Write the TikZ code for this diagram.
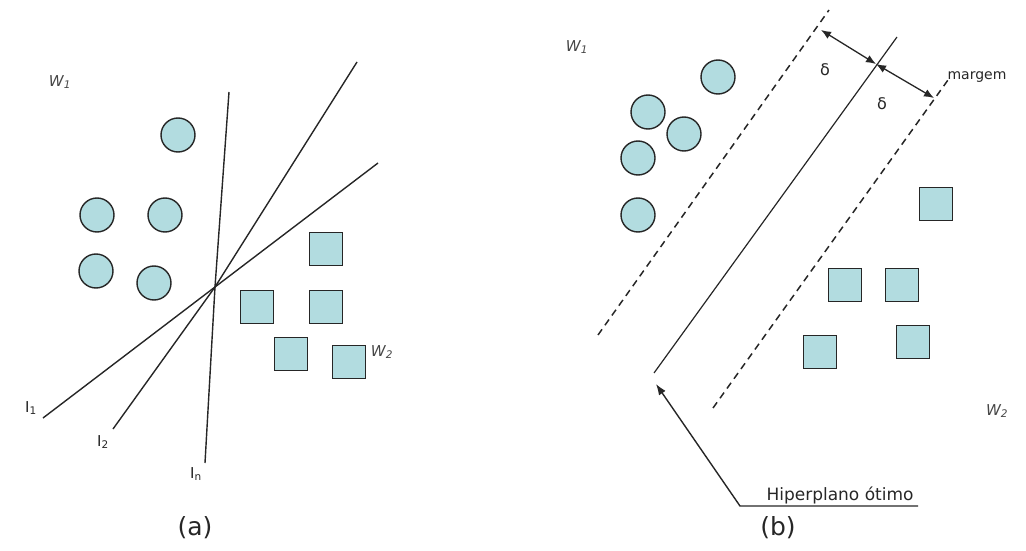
\documentclass[tikz,border=0pt]{standalone}
\usepackage{fontspec}
\setmainfont{DejaVu Sans}
\usetikzlibrary{arrows.meta}
\definecolor{ptfill}{RGB}{178,220,224}
\definecolor{lab}{RGB}{70,70,70}
\tikzset{
  dot/.style={circle,draw=black!85,line width=1.4pt,fill=ptfill,minimum size=34pt,inner sep=0pt},
  sq/.style={rectangle,draw=black!85,line width=1.4pt,fill=ptfill,minimum size=33pt,inner sep=0pt},
  ln/.style={draw=black!85,line width=1.4pt},
  dsh/.style={draw=black!85,line width=1.5pt,dash pattern=on 7pt off 5pt},
  wl/.style={text=lab,font=\fontsize{15}{17}\selectfont\itshape,inner sep=0pt},
  il/.style={text=black!85,font=\fontsize{15}{17}\selectfont,inner sep=0pt},
  captxt/.style={text=black!85,font=\fontsize{25}{28}\selectfont,inner sep=0pt},
  tipend/.style={-{Latex[length=11pt,width=8pt]}},
  dtip/.style={{Latex[length=10pt,width=8pt]}-{Latex[length=10pt,width=8pt]}}
}
\begin{document}
\begin{tikzpicture}[x=1pt,y=-1pt]
\useasboundingbox (0,0) rectangle (1026,551);
% ---------- panel (a)
\node[wl] (w1a) at (60,82) {W\textsubscript{1}};
\node[wl] (w2a) at (382,352) {W\textsubscript{2}};
\node[dot] (a1) at (178,135) {};
\node[dot] (a2) at (97,215) {};
\node[dot] (a3) at (165,215) {};
\node[dot] (a4) at (96,271) {};
\node[dot] (a5) at (154,283) {};
\node[sq] (b1) at (326,249) {};
\node[sq] (b2) at (257,307) {};
\node[sq] (b3) at (326,307) {};
\node[sq] (b4) at (291,354) {};
\node[sq] (b5) at (349,362) {};
\coordinate (X) at (215,287);
\coordinate (l1a) at (43,418);
\coordinate (l1b) at (378,163);
\coordinate (l2a) at (113,429);
\coordinate (l2b) at (357,62);
\coordinate (lna) at (205,463);
\coordinate (lnb) at (229,92);
\draw[ln] (l1a) -- (X) -- (l1b);
\draw[ln] (l2a) -- (X) -- (l2b);
\draw[ln] (lna) -- (X) -- (lnb);
\node[il] (t1) at (31,408) {I\textsubscript{1}};
\node[il] (t2) at (103,442) {I\textsubscript{2}};
\node[il] (tn) at (196,474) {I\textsubscript{n}};
\node[captxt] (capa) at (195,528) {(a)};
% ---------- panel (b)
\node[wl] (w1b) at (577,47) {W\textsubscript{1}};
\node[wl] (w2b) at (997,411) {W\textsubscript{2}};
\node[il,font=\fontsize{14}{16}\selectfont] (marg) at (977,77) {margem};
\node[dot] (c1) at (718,77) {};
\node[dot] (c2) at (648,112) {};
\node[dot] (c3) at (684,134) {};
\node[dot] (c4) at (638,158) {};
\node[dot] (c5) at (638,215) {};
\node[sq] (d1) at (936,204) {};
\node[sq] (d2) at (845,285) {};
\node[sq] (d3) at (902,285) {};
\node[sq] (d4) at (820,352) {};
\node[sq] (d5) at (913,342) {};
\coordinate (h0) at (654,373);
\coordinate (h1) at (897,37);
\coordinate (u0) at (598,335);
\coordinate (u1) at (829,10);
\coordinate (v0) at (713,408);
\coordinate (v1) at (948,80);
\draw[ln,line width=1.2pt] (h0) -- (h1);
\draw[dsh] (u0) -- (u1);
\draw[dsh] (v0) -- (v1);
\coordinate (m0) at (821,30);
\coordinate (mc) at (876,64);
\coordinate (m1) at (934,98);
\draw[ln,line width=1.3pt,dtip] (m0) -- (mc);
\draw[ln,line width=1.3pt,dtip] (mc) -- (m1);
\node[il,font=\fontsize{16}{18}\selectfont] (dl1) at (825,70) {δ};
\node[il,font=\fontsize{16}{18}\selectfont] (dl2) at (882,104) {δ};
\coordinate (hk) at (740,506);
\coordinate (he) at (918,506);
\coordinate (ht) at (656,384);
\draw[ln,tipend] (he) -- (hk) -- (ht);
\node[il,font=\fontsize{17}{19}\selectfont,anchor=base] (hl) at (840,500) {Hiperplano ótimo};
\node[captxt] (capb) at (778,528) {(b)};
\end{tikzpicture}
\end{document}
